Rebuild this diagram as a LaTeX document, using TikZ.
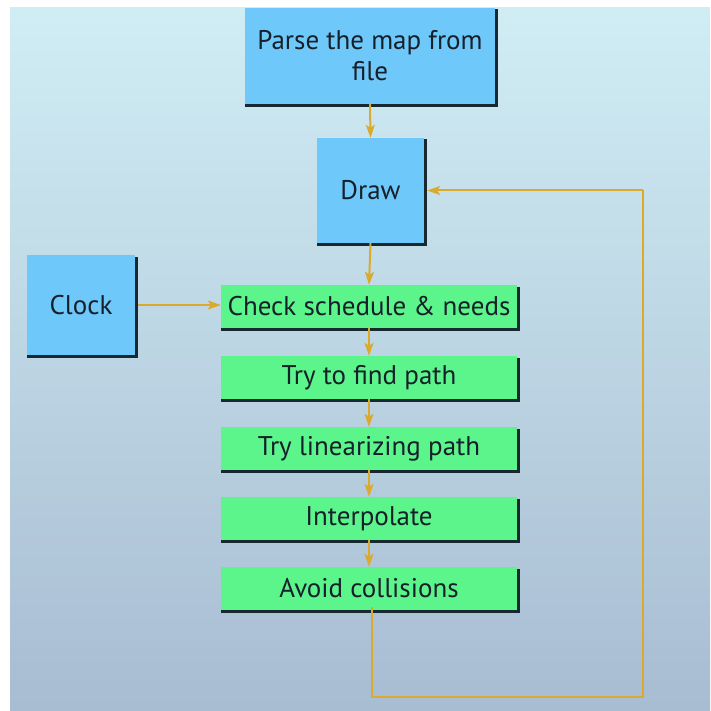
\documentclass[tikz,border=0pt]{standalone}
\usepackage{fontspec}
\setmainfont{PT Sans}
\usetikzlibrary{arrows.meta,calc}
\definecolor{bgtop}{RGB}{208,237,244}
\definecolor{bgmid}{RGB}{196,224,236}
\definecolor{bgbot}{RGB}{168,188,210}
\definecolor{bluebox}{RGB}{110,200,250}
\definecolor{greenbox}{RGB}{92,245,140}
\definecolor{shadowc}{RGB}{22,40,48}
\definecolor{goldc}{RGB}{218,170,45}
\definecolor{txtc}{RGB}{22,32,42}
\tikzset{
  boxbase/.style={inner sep=0pt, text=txtc, font=\fontsize{27}{31}\selectfont, align=center},
  bluestep/.style={boxbase, fill=bluebox},
  greenstep/.style={boxbase, fill=greenbox, minimum width=296pt, minimum height=43pt},
  flow/.style={draw=goldc, line width=2pt, -{Stealth[length=13pt,width=9pt,inset=3pt]}},
  loopline/.style={draw=goldc, line width=2pt},
}
\newcommand{\boxshadow}[1]{%
  \draw[shadowc, line width=2.6pt, line cap=rect]
    ($(#1.north east)+(1.5pt,-3pt)$) -- ($(#1.south east)+(1.5pt,-1.5pt)$)
    -- ($(#1.south west)+(1.5pt,-1.5pt)$);}
\begin{document}
\begin{tikzpicture}[x=1pt,y=-1pt]
\useasboundingbox (0,0) rectangle (710,711);
\shade[top color=bgtop, middle color=bgmid, bottom color=bgbot] (10,8) rectangle (710,711);
% nodes
\node[bluestep, minimum width=250pt, minimum height=96pt] (parse) at (370,56) {Parse the map from\\file};
\node[bluestep, minimum width=107pt, minimum height=105pt] (draw) at (370.5,190.5) {Draw};
\node[bluestep, minimum width=108pt, minimum height=100pt] (clock) at (81,305) {Clock};
\node[greenstep] (check) at (369,306.5) {Check schedule \& needs};
\node[greenstep] (find) at (369,377.5) {Try to find path};
\node[greenstep] (lin) at (369,448.5) {Try linearizing path};
\node[greenstep] (interp) at (369,518.5) {Interpolate};
\node[greenstep] (avoid) at (369,588.5) {Avoid collisions};
\foreach \n in {parse,draw,clock,check,find,lin,interp,avoid}{\boxshadow{\n}}
% connectors
\draw[flow] (parse.south) -- (draw.north);
\draw[flow] (draw.south) -- (check.north);
\draw[flow] ($(clock.east)+(3pt,0)$) -- (check.west |- clock.east);
\draw[flow] (check.south) -- (find.north);
\draw[flow] (find.south) -- (lin.north);
\draw[flow] (lin.south) -- (interp.north);
\draw[flow] (interp.south) -- (avoid.north);
\coordinate (lb) at (372,697);
\coordinate (rb) at (643,697);
\coordinate (rt) at (643,190.5);
\draw[loopline] ($(avoid.south)+(3pt,3pt)$) -- (lb) -- (rb) -- (rt);
\draw[flow] (rt) -- ($(draw.east)+(3pt,0)$);
\end{tikzpicture}
\end{document}
